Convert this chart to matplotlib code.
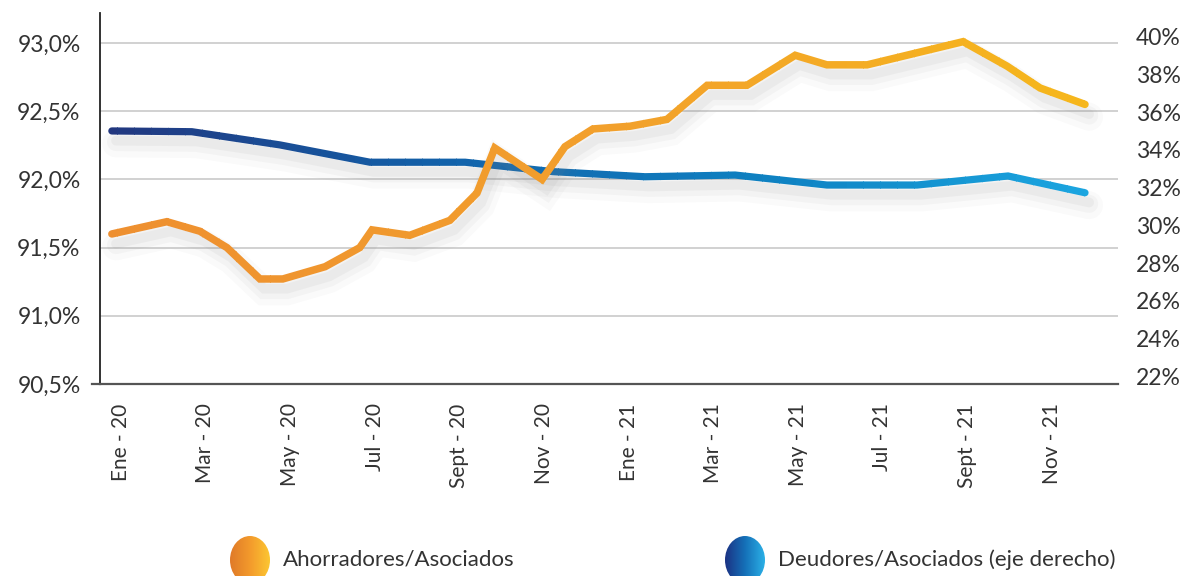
import numpy as np
import matplotlib.pyplot as plt
import matplotlib.transforms as mtrans
from matplotlib.colors import LinearSegmentedColormap
from matplotlib.patches import Rectangle, Ellipse
from matplotlib import patheffects as pe

# posicion en meses (0 = Ene-20) y valores
ahorr_mes = [0, 1.3, 2.08, 2.72, 3.5, 4.04, 5.04, 5.86, 6.15, 7.04, 7.99, 8.63, 9.05,
             10.17, 10.71, 11.37, 12.25, 13.12, 14.07, 15.01, 16.15, 16.9, 17.85,
             20.12, 21.16, 21.94, 23]
ahorr_val = [91.60, 91.69, 91.62, 91.50, 91.27, 91.27, 91.36, 91.50, 91.63, 91.59, 91.70,
             91.90, 92.23, 92.00, 92.24, 92.37, 92.39, 92.44, 92.69, 92.69, 92.91, 92.84,
             92.84, 93.01, 92.83, 92.67, 92.55]

deud_mes = [0, 1.89, 3.97, 6.10, 8.35, 10.43, 12.6, 14.73, 16.9, 19.03, 21.18, 23]
deud_val = [35.01, 34.97, 34.27, 33.35, 33.35, 32.85, 32.58, 32.67, 32.14, 32.14, 32.62, 31.73]

x_ticks = list(range(0, 24, 2))
x_labels = ['Ene - 20', 'Mar - 20', 'May - 20', 'Jul - 20', 'Sept - 20', 'Nov - 20',
            'Ene - 21', 'Mar - 21', 'May - 21', 'Jul - 21', 'Sept - 21', 'Nov - 21']
izq_ticks = [90.5, 91.0, 91.5, 92.0, 92.5, 93.0]
der_ticks = [22, 24, 26, 28, 30, 32, 34, 36, 38, 40]

FONT = ['Lato', 'DejaVu Sans']
TXT = '#333333'

fig = plt.figure(figsize=(11.86, 5.76), dpi=100)
ax = fig.add_axes([100 / 1186, 1 - 384 / 576, 1018 / 1186, 371 / 576])
ax2 = ax.twinx()

ax.set_xlim(-0.28, 23.78)
ax.set_ylim(90.5, 93.22)
ax2.set_ylim(21.58, 41.27)

# rejilla
for v in izq_ticks[1:]:
    ax.axhline(v, color='#c9c9c9', lw=1.2, zorder=0)

orange_cm = LinearSegmentedColormap.from_list('o', ['#ee8f30', '#f2a02c', '#f6b81b'])
blue_cm = LinearSegmentedColormap.from_list('b', ['#22377f', '#1262aa', '#0f82c2', '#1ca8e2'])

shadow = [pe.SimpleLineShadow(offset=(3, -9), shadow_color='#888888', alpha=0.04, linewidth=20),
          pe.SimpleLineShadow(offset=(3, -8), shadow_color='#888888', alpha=0.06, linewidth=13),
          pe.SimpleLineShadow(offset=(3, -7), shadow_color='#888888', alpha=0.08, linewidth=7)]


def gradient_line(x, y, cmap, trans, lw, z):
    ax.plot(x, y, transform=trans, lw=lw, solid_capstyle='round', solid_joinstyle='miter',
            path_effects=shadow, zorder=z - 0.5)
    x0, x1 = ax.get_xlim()
    edges = np.linspace(x0, x1, 61)
    btrans = mtrans.blended_transform_factory(ax.transData, ax.transAxes)
    for i in range(len(edges) - 1):
        c = cmap(i / (len(edges) - 2))
        ln, = ax.plot(x, y, transform=trans, color=c, lw=lw, solid_capstyle='round',
                      solid_joinstyle='miter', zorder=z)
        r = Rectangle((edges[i], -0.1), edges[i + 1] - edges[i] + 0.02, 1.2, transform=btrans)
        ln.set_clip_path(r)


gradient_line(deud_mes, deud_val, blue_cm, ax2.transData, 5.2, 3)
gradient_line(ahorr_mes, ahorr_val, orange_cm, ax.transData, 5.4, 4)

# ejes
for s in ['top', 'right']:
    ax.spines[s].set_visible(False)
for s in ax2.spines:
    ax2.spines[s].set_visible(False)
ax.spines['left'].set_color('#222222')
ax.spines['left'].set_linewidth(1.3)
ax.spines['bottom'].set_color('#555555')
ax.spines['bottom'].set_linewidth(1.6)
ax.plot([-0.008, 0], [0, 0], transform=ax.transAxes, color='#555555', lw=1.6, clip_on=False)

ax.set_yticks(izq_ticks)
ax.set_yticklabels([('%.1f%%' % v).replace('.', ',') for v in izq_ticks])
ax.tick_params(axis='y', length=0, pad=14, labelsize=16.5, labelcolor=TXT)

ax2.set_yticks(der_ticks)
ax2.set_yticklabels(['%d%%' % v for v in der_ticks])
ax2.tick_params(axis='y', length=0, pad=13, labelsize=16.5, labelcolor=TXT)

ax.set_xticks(x_ticks)
ax.set_xticklabels(x_labels, rotation=90, va='top', ha='center')
ax.tick_params(axis='x', length=0, pad=14, labelsize=15, labelcolor=TXT)
off = mtrans.ScaledTranslation(9 / 100, 0, fig.dpi_scale_trans)
for lab in ax.get_xticklabels():
    lab.set_transform(lab.get_transform() + off)

for lab in ax.get_xticklabels() + ax.get_yticklabels() + ax2.get_yticklabels():
    lab.set_family(FONT)
    lab.set_fontweight('normal')


# leyenda con elipses degradadas
def legend_dot(cx, cy, w, h, colors):
    lax = fig.add_axes([(cx - w / 2) / 1186, 1 - (cy + h / 2) / 576, w / 1186, h / 576])
    cm = LinearSegmentedColormap.from_list('l', colors)
    grad = np.tile(np.linspace(0, 1, 64), (64, 1))
    im = lax.imshow(grad, cmap=cm, extent=[0, 1, 0, 1], aspect='auto')
    el = Ellipse((0.5, 0.5), 1, 1, transform=lax.transAxes)
    im.set_clip_path(el)
    lax.set_xlim(0, 1)
    lax.set_ylim(0, 1)
    lax.axis('off')


legend_dot(250, 560, 40, 48, ['#e07a28', '#f39a2c', '#fcc632'])
legend_dot(745, 560, 40, 48, ['#1b3384', '#1570b8', '#2bb0e6'])

fig.text(283 / 1186, 1 - 560 / 576, 'Ahorradores/Asociados', ha='left', va='center',
         fontsize=16, color=TXT, family=FONT)
fig.text(778 / 1186, 1 - 560 / 576, 'Deudores/Asociados (eje derecho)', ha='left', va='center',
         fontsize=16, color=TXT, family=FONT)

fig.savefig('out.png', dpi=100, facecolor='white')
